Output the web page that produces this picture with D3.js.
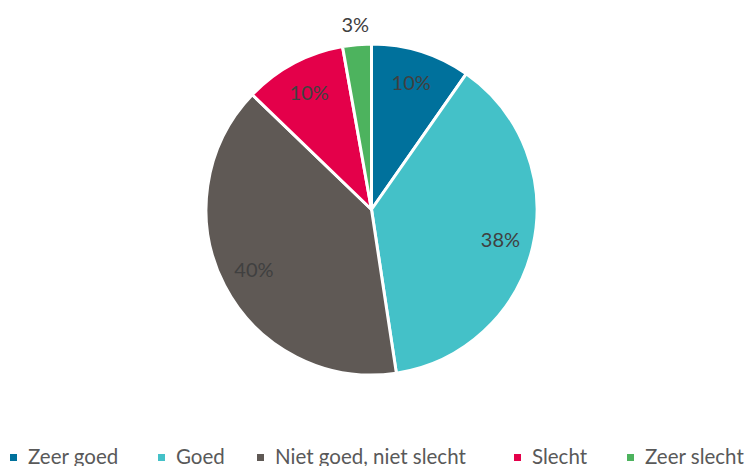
<!DOCTYPE html>
<html>
<head>
<meta charset="utf-8">
<script src="https://cdn.jsdelivr.net/npm/d3@7"></script>
<style>
  body { margin: 0; background: #fff; }
  text { font-family: Lato, "Open Sans", "Liberation Sans", sans-serif; }
</style>
</head>
<body>
<div id="chart"></div>
<script>
const categories = ["Zeer goed", "Goed", "Niet goed, niet slecht", "Slecht", "Zeer slecht"];
const values = [9.7, 37.9, 39.6, 10.0, 2.8];
const labels = ["10%", "38%", "40%", "10%", "3%"];
const colors = ["#00719c", "#44c1c8", "#5f5955", "#e4004a", "#4db35e"];
const legendX = [10, 158, 257, 514, 627]; // left edge of each legend swatch

let width = 747,
    height = 466,
    cx = 371.5,
    cy = 209.5,
    radius = 165.5;

const svg = d3.select("#chart")
  .append("svg")
  .attr("width", width)
  .attr("height", height);

const data = categories.map((c, i) => ({ cat: c, value: values[i], label: labels[i], color: colors[i] }));

const pie = d3.pie().sort(null).value(d => d.value);
const arcs = pie(data);

const arc = d3.arc().innerRadius(0).outerRadius(radius);
const labelArc = d3.arc().innerRadius(radius * 0.8).outerRadius(radius * 0.8);
const outerLabelArc = d3.arc().innerRadius(radius * 1.12).outerRadius(radius * 1.12);

const g = svg.append("g").attr("transform", `translate(${cx},${cy})`);

g.selectAll("path")
  .data(arcs)
  .join("path")
  .attr("d", arc)
  .attr("fill", d => d.data.color)
  .attr("stroke", "#fff")
  .attr("stroke-width", 3)
  .attr("stroke-linejoin", "round");

g.selectAll("text.lbl")
  .data(arcs)
  .join("text")
  .attr("class", "lbl")
  .attr("transform", d => {
    // small slice gets its label outside the pie
    let p = (d.endAngle - d.startAngle) < 0.25 ? outerLabelArc.centroid(d) : labelArc.centroid(d);
    return `translate(${p[0]},${p[1]})`;
  })
  .attr("text-anchor", "middle")
  .attr("dy", "0.35em")
  .attr("fill", "#404040")
  .attr("font-size", 20)
  .text(d => d.data.label);

// legend along the bottom
const legend = svg.append("g").attr("transform", "translate(0,464)");
data.forEach((d, i) => {
  const item = legend.append("g").attr("transform", `translate(${legendX[i]},0)`);
  item.append("rect")
    .attr("x", 0).attr("y", -10)
    .attr("width", 7).attr("height", 7)
    .attr("fill", d.color);
  item.append("text")
    .attr("x", 18)
    .attr("fill", "#595959")
    .attr("font-size", 20.5)
    .text(d.cat);
});
</script>
</body>
</html>
